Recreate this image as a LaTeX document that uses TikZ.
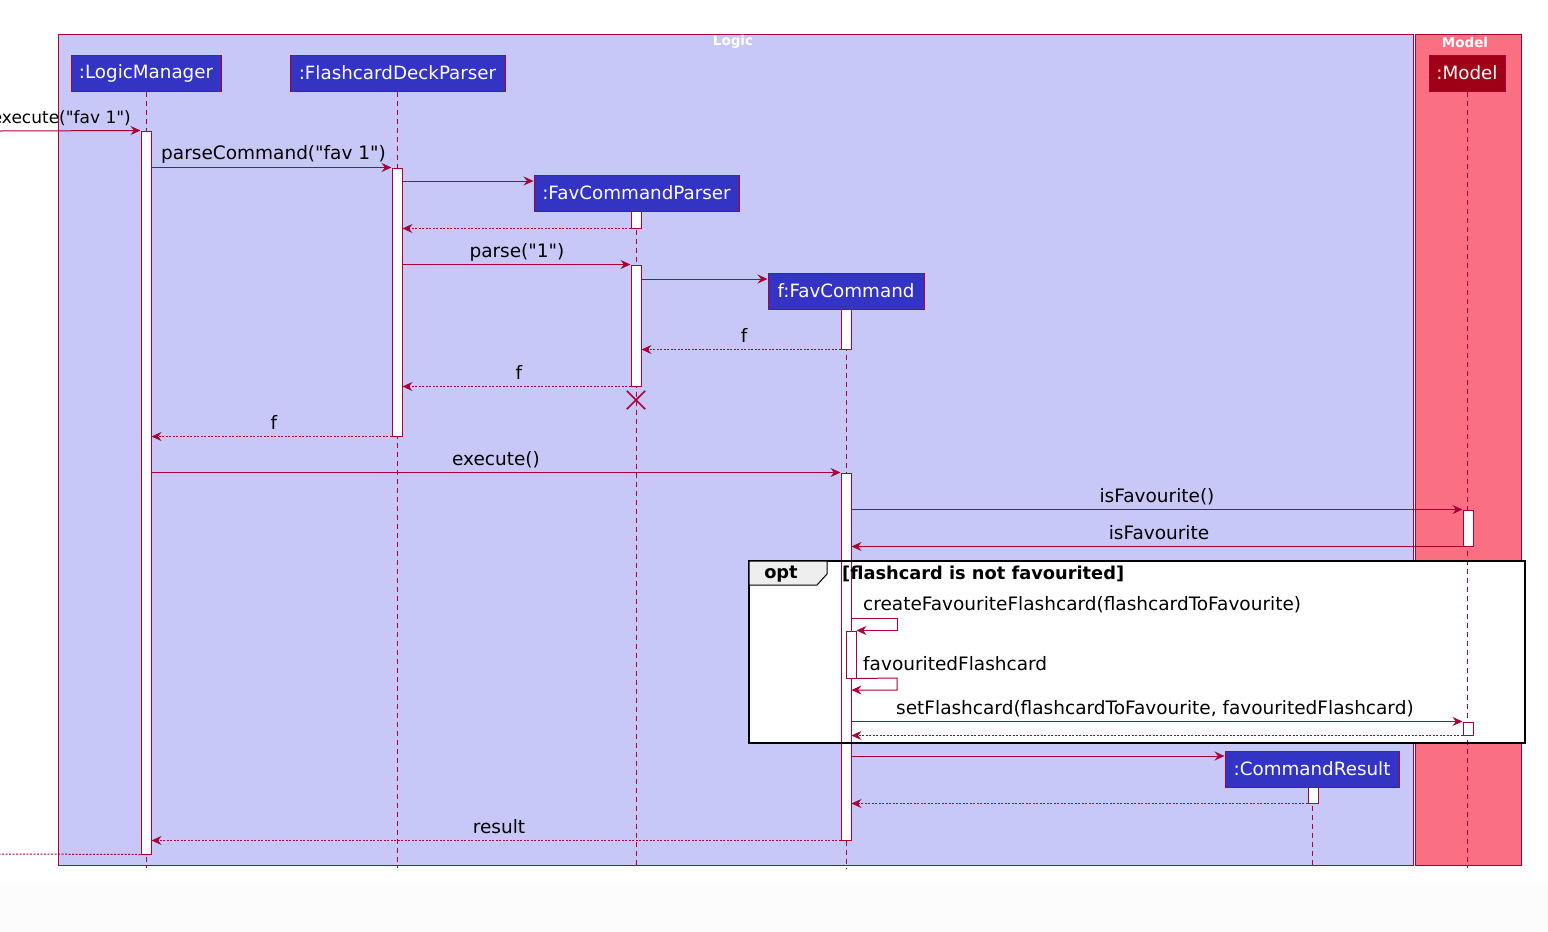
\documentclass[tikz,border=0pt]{standalone}
\usepackage{fontspec}
\setmainfont{DejaVu Sans}[Ligatures=TeXOff]
\usetikzlibrary{arrows.meta}
\definecolor{lav}{RGB}{200,200,248}
\definecolor{pinkm}{RGB}{250,112,130}
\definecolor{pblue}{RGB}{51,51,196}
\definecolor{mred}{RGB}{160,0,22}
\definecolor{crim}{RGB}{168,0,54}
\definecolor{tabgrey}{RGB}{238,238,238}
\definecolor{bgrey}{RGB}{252,252,252}
\tikzset{
  part/.style={draw=crim, line width=1pt, fill=pblue, text=white, minimum height=36pt, inner sep=0pt, font=\fontsize{18.3}{21}\selectfont},
  life/.style={draw=crim, line width=0.8pt, dash pattern=on 5pt off 4pt},
  act/.style={draw=crim, line width=1pt, fill=white, minimum width=10pt, inner sep=0pt},
  msg/.style={draw=crim, line width=1pt, -{Stealth[length=10pt,width=9pt,inset=3.5pt]}},
  ret/.style={draw=crim, line width=1pt, dash pattern=on 2pt off 1.5pt, -{Stealth[length=10pt,width=9pt,inset=3.5pt]}},
  retnt/.style={draw=crim, line width=1pt, dash pattern=on 2pt off 1.5pt},
  lbl/.style={inner sep=0pt, font=\fontsize{18.5}{21}\selectfont},
  bl/.style={inner sep=0pt, font=\bfseries\fontsize{17.8}{21}\selectfont},
  ttl/.style={inner sep=0pt, text=white, font=\bfseries\fontsize{13.5}{15}\selectfont},
}
\begin{document}
\begin{tikzpicture}[x=1pt,y=-1pt]
\useasboundingbox (0,0) rectangle (1548,932);
\fill[white] (0,0) rectangle (1548,932);
\fill[bgrey] (0,882) rectangle (1548,932);
% packages
\draw[crim, line width=1pt, fill=lav] (58,34) rectangle (1413,865);
\draw[crim, line width=1pt, fill=pinkm] (1415,34) rectangle (1521,865);
\node[ttl] (logicT) at (733,42) {Logic};
\node[ttl] (modelT) at (1465,42) {Model};
% opt frame fill
\fill[white] (749,561) rectangle (1525,743);
% participants
\node[part, minimum width=150pt] (lm) at (146,73) {:LogicManager};
\node[part, minimum width=215pt] (fdp) at (397.5,73) {:FlashcardDeckParser};
\node[part, minimum width=205pt] (fcp) at (636.5,193) {:FavCommandParser};
\node[part, minimum width=156pt] (fc) at (846,291) {f:FavCommand};
\node[part, minimum width=174pt] (cr) at (1312,769) {:CommandResult};
\node[part, fill=mred, minimum width=76pt] (md) at (1467,73) {:Model};
% lifeline ends
\coordinate (lmE) at (146,868);
\coordinate (fdpE) at (397,868);
\coordinate (fcpE) at (636,868);
\coordinate (fcE) at (846,868);
\coordinate (crE) at (1312,868);
\coordinate (mdE) at (1467,868);
\draw[life] (lm.south) -- (lmE);
\draw[life] (fdp.south -| fdpE) -- (fdpE);
\draw[life] (fcp.south -| fcpE) -- (fcpE);
\draw[life] (fc.south) -- (fcE);
\draw[life] (cr.south -| crE) -- (crE);
\draw[life] (md.south) -- (mdE);
% activations
\node[act, minimum height=723pt] (lmA) at (146,492.5) {};
\node[act, minimum height=268pt] (fdpA) at (397,302) {};
\node[act, minimum height=17pt] (fcpA1) at (636,219.5) {};
\node[act, minimum height=121pt] (fcpA2) at (636,325.5) {};
\node[act, minimum height=40pt] (fcA1) at (846,329) {};
\node[act, minimum height=367pt] (fcA2) at (846,656.5) {};
\node[act, minimum height=47pt] (fcA3) at (851,654.5) {};
\node[act, minimum height=36pt] (mdA1) at (1468,528) {};
\node[act, minimum height=13pt] (mdA2) at (1468,728.5) {};
\node[act, minimum height=16pt] (crA) at (1313,795) {};
% destroy
\node[inner sep=0pt, minimum size=18pt] (xd) at (636,400) {};
\draw[crim, line width=1.5pt] (xd.north west) -- (xd.south east) (xd.north east) -- (xd.south west);
% messages
\coordinate (inL) at (0,131);
\draw[msg] (inL) -- (lmA.north west);
\node[lbl, anchor=east, font=\fontsize{17}{20}\selectfont] (l1) at (131,118) {execute("fav 1")};
\draw[msg] (lmA.east |- fdpA.north) -- (fdpA.north west);
\node[lbl, anchor=west] (l2) at (161,154) {parseCommand("fav 1")};
\draw[msg] (fdpA.east |- 0,181) -- (fcp.west |- 0,181);
\draw[ret] (fcpA1.south west) -- (fdpA.east |- fcpA1.south);
\draw[msg] (fdpA.east |- fcpA2.north) -- (fcpA2.north west);
\node[lbl] (l5) at (517,252) {parse("1")};
\draw[msg] (fcpA2.east |- 0,279) -- (fc.west |- 0,279);
\draw[ret] (fcA1.south west) -- (fcpA2.east |- fcA1.south);
\node[lbl] (l7) at (744,335) {f};
\draw[ret] (fcpA2.south west) -- (fdpA.east |- fcpA2.south);
\node[lbl] (l8) at (519,372) {f};
\draw[ret] (fdpA.south west) -- (lmA.east |- fdpA.south);
\node[lbl] (l9) at (274,422) {f};
\draw[msg] (lmA.east |- fcA2.north) -- (fcA2.north west);
\node[lbl] (l10) at (496,460) {execute()};
\draw[msg] (fcA2.east |- mdA1.north) -- (mdA1.north west);
\node[lbl] (l11) at (1157,497) {isFavourite()};
\draw[msg] (mdA1.south west) -- (fcA2.east |- mdA1.south);
\node[lbl] (l12) at (1159,533) {isFavourite};
% opt content
\draw[msg] (fcA2.east |- 0,618) -- (897,618) |- (fcA3.north east);
\node[lbl, anchor=west] (l14) at (863,605) {createFavouriteFlashcard(flashcardToFavourite)};
\draw[msg] (fcA3.south east) -- (897,678) |- (fcA2.east |- 0,690);
\node[lbl, anchor=west] (l15) at (863,664) {favouritedFlashcard};
\draw[msg] (fcA2.east |- mdA2.north) -- (mdA2.north west);
\node[lbl, anchor=west] (l16) at (896,709) {setFlashcard(flashcardToFavourite, favouritedFlashcard)};
\draw[ret] (mdA2.south west) -- (fcA2.east |- mdA2.south);
% after opt
\draw[msg] (fcA2.east |- 0,756) -- (cr.west |- 0,756);
\draw[ret] (crA.south west) -- (fcA2.east |- crA.south);
\draw[ret] (fcA2.south west) -- (lmA.east |- fcA2.south);
\node[lbl] (l20) at (499,827) {result};
\coordinate (outL) at (0,854);
\draw[retnt] (lmA.south west) -- (outL);
% opt frame
\draw[black, line width=2pt] (749,561) rectangle (1525,743);
\draw[black, line width=1pt, fill=tabgrey] (749,561) -- (827,561) -- (827,574) -- (817,585) -- (749,585) -- cycle;
\node[bl] (optT) at (781,574) {opt};
\node[bl, anchor=west] (guard) at (842,574) {[flashcard is not favourited]};
\end{tikzpicture}
\end{document}
